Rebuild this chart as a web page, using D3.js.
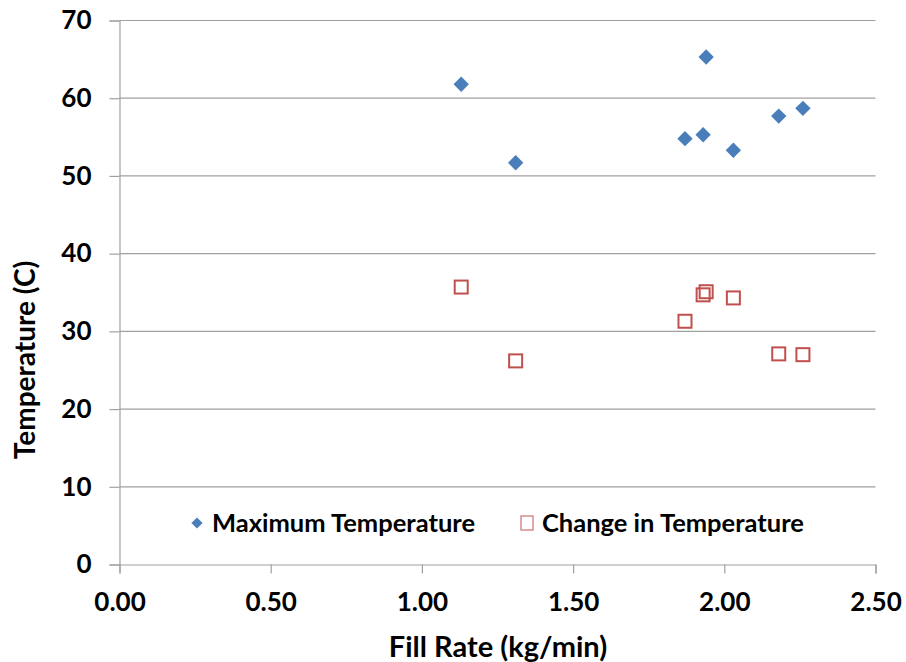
<!DOCTYPE html>
<html><head><meta charset="utf-8">
<script src="https://cdn.jsdelivr.net/npm/d3@7"></script>
<style>body{margin:0;background:#fff}svg{display:block}text{font-family:Lato,"Open Sans",sans-serif;font-weight:bold;fill:#000}</style>
</head><body><div id="chart"></div>
<script>
const fillRate = [1.13, 1.31, 1.87, 1.93, 1.94, 2.03, 2.18, 2.26];
const maxTemp = [61.8, 51.7, 54.8, 55.3, 65.3, 53.3, 57.7, 58.7];
const changeTemp = [35.7, 26.2, 31.3, 34.7, 35.1, 34.3, 27.1, 27.0];
const xTicks = [0, 0.5, 1.0, 1.5, 2.0, 2.5];
const yTicks = [0, 10, 20, 30, 40, 50, 60, 70];
const seriesNames = ["Maximum Temperature", "Change in Temperature"];

const W = 906, H = 662;
const m = {l: 119.5, r: 30.5, t: 20.5, b: 97.5};
const svg = d3.select("#chart").append("svg").attr("width", W).attr("height", H);
const x = d3.scaleLinear().domain([0, 2.5]).range([m.l, W - m.r]);
const y = d3.scaleLinear().domain([0, 70]).range([H - m.b, m.t]);

// gridlines
svg.append("g").selectAll("line").data(yTicks.filter(d => d > 0)).join("line")
  .attr("x1", m.l).attr("x2", W - m.r).attr("y1", d => y(d)).attr("y2", d => y(d))
  .attr("stroke", "#a0a0a0").attr("stroke-width", 1.2);

// y axis
const ya = svg.append("g").attr("transform", `translate(${m.l},0)`)
  .call(d3.axisLeft(y).tickValues(yTicks).tickSize(10).tickPadding(18).tickFormat(d3.format("d")));
// x axis
const xa = svg.append("g").attr("transform", `translate(0,${y(0)})`)
  .call(d3.axisBottom(x).tickValues(xTicks).tickSize(9).tickPadding(15).tickFormat(d3.format(".2f")));
[ya, xa].forEach(a => {
  a.select(".domain").attr("stroke", "#a0a0a0").attr("stroke-width", 1.2);
  a.selectAll(".tick line").attr("stroke", "#a0a0a0").attr("stroke-width", 1.2);
  a.selectAll(".tick text").attr("font-size", 26).attr("font-family", "Lato").attr("font-weight", "bold").attr("fill", "#000");
});
xa.selectAll(".tick text").attr("dy", "0.85em");

const data = fillRate.map((f, i) => ({f, mx: maxTemp[i], ch: changeTemp[i]}));

// change squares
svg.append("g").selectAll("rect").data(data).join("rect")
  .attr("x", d => x(d.f) - 6.5).attr("y", d => y(d.ch) - 6.5)
  .attr("width", 13).attr("height", 13)
  .attr("fill", "none").attr("stroke", "#c0504d").attr("stroke-width", 2);

// diamonds
const diamond = d3.symbol().type(d3.symbolDiamond2).size(150);
svg.append("g").selectAll("path").data(data).join("path")
  .attr("d", diamond).attr("transform", d => `translate(${x(d.f)},${y(d.mx)})`)
  .attr("fill", "#4a7ebb");

// legend
const lg = svg.append("g");
lg.append("path").attr("d", d3.symbol().type(d3.symbolDiamond2).size(80)).attr("transform", "translate(197,523)").attr("fill", "#4a7ebb");
lg.append("text").attr("x", 212).attr("y", 532).attr("font-size", 25.5).text(seriesNames[0]);
lg.append("rect").attr("x", 521).attr("y", 516).attr("width", 12).attr("height", 14).attr("fill", "#fff").attr("stroke", "#d07070").attr("stroke-width", 1.2);
lg.append("text").attr("x", 542).attr("y", 532).attr("font-size", 25.5).text(seriesNames[1]);

// axis titles
svg.append("text").attr("x", 498).attr("y", 657).attr("text-anchor", "middle").attr("font-size", 29).text("Fill Rate (kg/min)");
svg.append("text").attr("transform", "translate(35,360) rotate(-90)").attr("text-anchor", "middle").attr("font-size", 28).text("Temperature (C)");
</script></body></html>
